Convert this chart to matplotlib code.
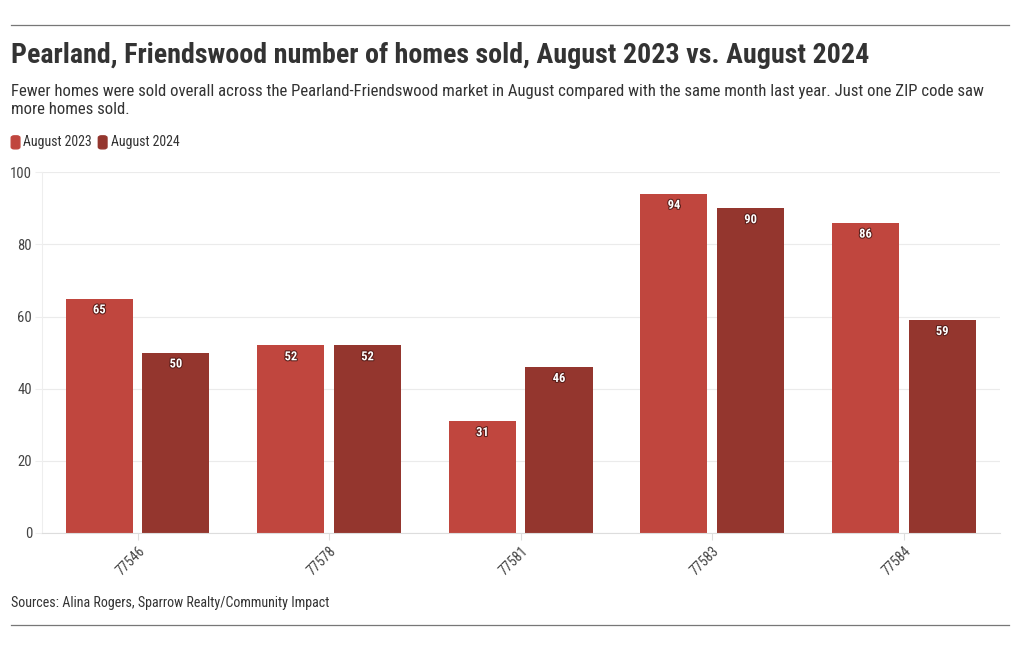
import matplotlib
matplotlib.use("Agg")
import matplotlib.pyplot as plt
import matplotlib.patheffects as pe
from matplotlib import font_manager
from matplotlib.patches import FancyBboxPatch
from matplotlib.lines import Line2D
import numpy as np

# data
zips = ["77546", "77578", "77581", "77583", "77584"]
aug_2023 = [65, 52, 31, 94, 86]
aug_2024 = [50, 52, 46, 90, 59]
series_names = ["August 2023", "August 2024"]
colors = ["#c0463e", "#94362e"]

names = {f.name for f in font_manager.fontManager.ttflist}
fam = "Roboto Condensed" if "Roboto Condensed" in names else "Roboto"
plt.rcParams["font.family"] = [fam, "DejaVu Sans"]

fig = plt.figure(figsize=(10.2, 6.5), dpi=100)
ax = fig.add_axes([0.041, 0.180, 0.939, 0.555])

x = np.arange(len(zips))
w = 0.35
for vals, off, c in [(aug_2023, -0.2, colors[0]), (aug_2024, 0.2, colors[1])]:
    bars = ax.bar(x + off, vals, width=w, color=c, zorder=2)
    for b, v in zip(bars, vals):
        t = ax.annotate(str(v), (b.get_x() + b.get_width() / 2, v),
                        xytext=(0, -3.5), textcoords="offset points",
                        ha="center", va="top", color="white",
                        fontsize=9, fontweight="bold", zorder=3)
        t.set_path_effects([pe.withStroke(linewidth=1.5, foreground="#5a1e1a")])

ax.set_xlim(-0.5, 4.5)
ax.set_ylim(0, 100)
ax.set_yticks([0, 20, 40, 60, 80, 100])
ax.set_xticks(x)
ax.set_xticklabels(zips, rotation=45, ha="right", rotation_mode="anchor")
ax.tick_params(axis="x", length=5, color="#dddddd", labelsize=10, labelcolor="#444444", pad=3)
ax.tick_params(axis="y", length=5, color="#eeeeee", labelsize=10.5, labelcolor="#444444", pad=2)
ax.grid(axis="y", color="#ebebeb", linewidth=0.8, zorder=0)
for s in ["top", "right"]:
    ax.spines[s].set_visible(False)
ax.spines["left"].set_color("#eeeeee")
ax.spines["bottom"].set_color("#dddddd")

# header / footer
fig.add_artist(Line2D([0.011, 0.989], [0.962, 0.962], color="#777777", linewidth=0.9))
fig.add_artist(Line2D([0.011, 0.989], [0.038, 0.038], color="#777777", linewidth=0.9))
fig.text(0.011, 0.915, "Pearland, Friendswood number of homes sold, August 2023 vs. August 2024",
         fontsize=20.2, fontweight="bold", color="#333333", va="center")
fig.text(0.011, 0.845, "Fewer homes were sold overall across the Pearland-Friendswood market in August compared with the same month last year. Just one ZIP code saw\nmore homes sold.",
         fontsize=12.1, color="#333333", va="center", linespacing=1.25)

lx = 0.011
for name, c in zip(series_names, colors):
    fig.add_artist(FancyBboxPatch((lx, 0.771), 0.0085, 0.02,
                                  boxstyle="round,pad=0,rounding_size=0.003",
                                  transform=fig.transFigure, color=c))
    t = fig.text(lx + 0.012, 0.781, name, fontsize=10, color="#333333", va="center")
    fig.canvas.draw()
    bb = t.get_window_extent()
    lx = bb.x1 / fig.bbox.width + 0.006

fig.text(0.011, 0.072, "Sources: Alina Rogers, Sparrow Realty/Community Impact",
         fontsize=10.1, color="#333333", va="center")

fig.savefig("out.png", dpi=100)
